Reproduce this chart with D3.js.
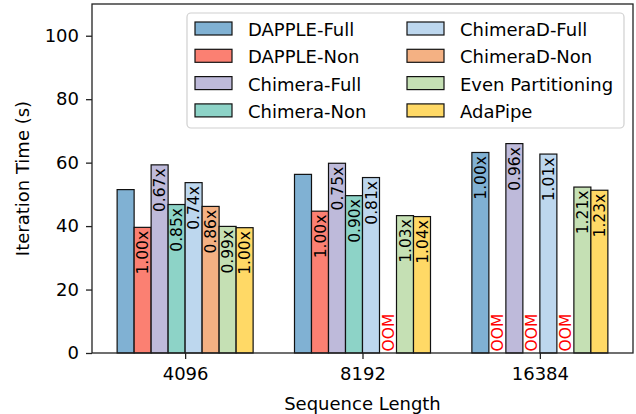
<!DOCTYPE html>
<html>
<head>
<meta charset="utf-8">
<script src="https://cdn.jsdelivr.net/npm/d3@7"></script>
<style>
  html, body { margin: 0; padding: 0; background: #fff; }
  svg { display: block; font-family: "DejaVu Sans", sans-serif; }
</style>
</head>
<body>
<svg id="chart" width="636" height="414"></svg>
<script>
// Sequence lengths on the x axis
const categories = ["4096", "8192", "16384"];

// Methods, in drawing order
const seriesNames = [
  "DAPPLE-Full", "DAPPLE-Non", "Chimera-Full", "Chimera-Non",
  "ChimeraD-Full", "ChimeraD-Non", "Even Partitioning", "AdaPipe"
];
const seriesColors = [
  "#80b1d3", "#fb8072", "#bebada", "#8dd3c7",
  "#bdd7ee", "#f4b183", "#c5e0b4", "#ffd966"
];

// Iteration time (s); null = out of memory
const dappleFull   = [51.5, 56.3, 63.2];
const dappleNon    = [39.6, 44.7, null];
const chimeraFull  = [59.3, 59.8, 66.0];
const chimeraNon   = [46.8, 49.6, null];
const chimeraDFull = [53.7, 55.3, 62.7];
const chimeraDNon  = [46.2, null, null];
const evenPart     = [39.9, 43.3, 52.3];
const adaPipe      = [39.5, 43.0, 51.3];

// Speedup annotations over the baseline
const dappleFullLbl   = [null, null, "1.00x"];
const dappleNonLbl    = ["1.00x", "1.00x", null];
const chimeraFullLbl  = ["0.67x", "0.75x", "0.96x"];
const chimeraNonLbl   = ["0.85x", "0.90x", null];
const chimeraDFullLbl = ["0.74x", "0.81x", "1.01x"];
const chimeraDNonLbl  = ["0.86x", null, null];
const evenPartLbl     = ["0.99x", "1.03x", "1.21x"];
const adaPipeLbl      = ["1.00x", "1.04x", "1.23x"];

const yTicks = [0, 20, 40, 60, 80, 100];

const seriesValues = [dappleFull, dappleNon, chimeraFull, chimeraNon,
                      chimeraDFull, chimeraDNon, evenPart, adaPipe];
const seriesLabels = [dappleFullLbl, dappleNonLbl, chimeraFullLbl, chimeraNonLbl,
                      chimeraDFullLbl, chimeraDNonLbl, evenPartLbl, adaPipeLbl];

const plot = { left: 92, right: 633, top: 4, bottom: 353 };
const svg = d3.select("#chart");

const x0 = d3.scalePoint().domain(categories)
  .range([plot.left, plot.right]).padding(0.525);
const x1 = d3.scaleBand().domain(seriesNames).range([-68, 68]);
const y = d3.scaleLinear().domain([0, 110]).range([plot.bottom, plot.top]);

const cells = [];
seriesNames.forEach((name, si) => {
  categories.forEach((cat, ci) => {
    cells.push({
      name, cat, color: seriesColors[si],
      value: seriesValues[si][ci], label: seriesLabels[si][ci]
    });
  });
});

const cx = d => x0(d.cat) + x1(d.name);
const bw = x1.bandwidth();

// Bars
svg.append("g").selectAll("rect")
  .data(cells.filter(d => d.value != null))
  .join("rect")
  .attr("x", cx)
  .attr("y", d => y(d.value))
  .attr("width", bw)
  .attr("height", d => y(0) - y(d.value))
  .attr("fill", d => d.color)
  .attr("stroke", "#111")
  .attr("stroke-width", 1.2);

// Speedup labels, rotated, hanging from the bar top
svg.append("g").selectAll("text")
  .data(cells.filter(d => d.value != null && d.label))
  .join("text")
  .attr("transform", d => `translate(${cx(d) + bw / 2},${y(d.value) + 3.5}) rotate(-90)`)
  .attr("text-anchor", "end")
  .attr("dy", "0.36em")
  .attr("font-size", 15.5)
  .attr("fill", "#000")
  .text(d => d.label);

// OOM markers for missing runs
svg.append("g").selectAll("text")
  .data(cells.filter(d => d.value == null))
  .join("text")
  .attr("transform", d => `translate(${cx(d) + bw / 2},${y(0) - 1.5}) rotate(-90)`)
  .attr("text-anchor", "start")
  .attr("dy", "0.36em")
  .attr("font-size", 15.5)
  .attr("fill", "#ff0000")
  .text("OOM");

// Axes
const yAxis = svg.append("g")
  .attr("transform", `translate(${plot.left},0)`)
  .call(d3.axisLeft(y).tickValues(yTicks).tickSize(6).tickPadding(7));
const xAxis = svg.append("g")
  .attr("transform", `translate(0,${plot.bottom})`)
  .call(d3.axisBottom(x0).tickSize(6).tickPadding(7));

[yAxis, xAxis].forEach(g => {
  g.select(".domain").remove();
  g.selectAll(".tick line").attr("stroke", "#222").attr("stroke-width", 1.3);
  g.selectAll(".tick text").attr("font-size", 18).attr("fill", "#000")
    .attr("font-family", "DejaVu Sans, sans-serif");
});
xAxis.selectAll(".tick text").attr("dy", "0.78em");

// Frame
svg.append("rect")
  .attr("x", plot.left).attr("y", plot.top)
  .attr("width", plot.right - plot.left)
  .attr("height", plot.bottom - plot.top)
  .attr("fill", "none").attr("stroke", "#222").attr("stroke-width", 1.3);

// Axis titles
svg.append("text")
  .attr("x", (plot.left + plot.right) / 2).attr("y", 410)
  .attr("text-anchor", "middle").attr("font-size", 18)
  .text("Sequence Length");
svg.append("text")
  .attr("transform", `translate(28.5,${(plot.top + plot.bottom) / 2}) rotate(-90)`)
  .attr("text-anchor", "middle").attr("font-size", 18)
  .text("Iteration Time (s)");

// Legend: two columns of four
const legend = svg.append("g");
legend.append("rect")
  .attr("x", 187).attr("y", 13).attr("width", 437).attr("height", 115)
  .attr("rx", 4).attr("fill", "#fff").attr("fill-opacity", 0.8)
  .attr("stroke", "#d0d0d0").attr("stroke-width", 1.2);
const colX = [195, 407];
const items = legend.selectAll("g.item")
  .data(seriesNames.map((n, i) => ({ n, i })))
  .join("g")
  .attr("transform", d => `translate(${colX[Math.floor(d.i / 4)]},${22 + (d.i % 4) * 27.3})`);
items.append("rect")
  .attr("width", 37).attr("height", 13)
  .attr("fill", d => seriesColors[d.i])
  .attr("stroke", "#111").attr("stroke-width", 1.2);
items.append("text")
  .attr("x", 53).attr("y", 14)
  .attr("font-size", 18)
  .text(d => d.n);
</script>
</body>
</html>
